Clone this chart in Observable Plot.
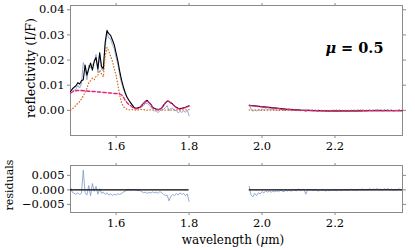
<!DOCTYPE html>
<html><head><meta charset="utf-8">
<script src="https://cdn.jsdelivr.net/npm/d3@7"></script>
<script src="https://cdn.jsdelivr.net/npm/@observablehq/plot@0.6"></script>
<style>
body{margin:0;background:#fff;}
#chart{position:relative;width:415px;height:250px;font-family:"DejaVu Serif",serif;}
#chart svg{position:absolute;left:0;}
</style></head><body><div id="chart"></div>
<script>
// ---- data: first wavelength chunk (µm) ----
const wave1 = [
1.475,1.480,1.485,1.490,1.495,1.500,1.505,1.510,1.515,1.520,
1.525,1.530,1.535,1.540,1.545,1.550,1.555,1.560,1.565,1.570,
1.575,1.580,1.585,1.590,1.595,1.600,1.605,1.610,1.615,1.620,
1.625,1.630,1.635,1.640,1.645,1.650,1.655,1.660,1.665,1.670,
1.675,1.680,1.685,1.690,1.695,1.700,1.705,1.710,1.715,1.720,
1.725,1.730,1.735,1.740,1.745,1.750,1.755,1.760,1.765,1.770,
1.775,1.780,1.785,1.790,1.795,1.800];
const obs1 = [
0.0085,0.0077,0.0080,0.0083,0.0100,0.0089,0.0106,0.0190,0.0170,0.0122,
0.0180,0.0168,0.0182,0.0190,0.0222,0.0150,0.0232,0.0163,0.0157,0.0254,
0.0308,0.0287,0.0284,0.0261,0.0245,0.0210,0.0182,0.0139,0.0108,0.0085,
0.0066,0.0051,0.0042,0.0028,0.0021,0.0009,0.0008,0.0007,0.0010,0.0014,
0.0018,0.0027,0.0028,0.0023,0.0014,0.0005,-0.0002,-0.0003,-0.0009,-0.0001,
0.0000,0.0005,0.0010,0.0019,-0.0002,0.0008,0.0009,-0.0002,0.0000,-0.0010,
-0.0004,-0.0008,-0.0002,-0.0008,0.0001,-0.0022];
const model1 = [
0.0075,0.0085,0.0092,0.0098,0.0110,0.0105,0.0118,0.0122,0.0180,0.0140,
0.0165,0.0188,0.0160,0.0195,0.0210,0.0165,0.0228,0.0175,0.0165,0.0270,
0.0318,0.0305,0.0298,0.0280,0.0260,0.0228,0.0195,0.0155,0.0120,0.0093,
0.0070,0.0052,0.0040,0.0030,0.0020,0.0010,0.0008,0.0010,0.0012,0.0020,
0.0028,0.0035,0.0040,0.0032,0.0025,0.0012,0.0008,0.0005,0.0003,0.0005,
0.0010,0.0020,0.0030,0.0037,0.0036,0.0030,0.0025,0.0018,0.0012,0.0008,
0.0006,0.0008,0.0010,0.0012,0.0015,0.0018];
const haze1 = [
0.0068,0.0073,0.0076,0.0078,0.0079,0.0079,0.0079,0.0078,0.0078,0.0077,
0.0076,0.0076,0.0075,0.0075,0.0074,0.0073,0.0073,0.0072,0.0071,0.0071,
0.0070,0.0069,0.0069,0.0068,0.0067,0.0067,0.0066,0.0065,0.0062,0.0052,
0.0040,0.0030,0.0023,0.0018,0.0012,0.0008,0.0006,0.0008,0.0010,0.0018,
0.0026,0.0033,0.0038,0.0031,0.0024,0.0011,0.0007,0.0004,0.0002,0.0004,
0.0009,0.0019,0.0029,0.0036,0.0035,0.0029,0.0024,0.0017,0.0011,0.0007,
0.0005,0.0007,0.0009,0.0011,0.0014,0.0017];
const gas1 = [
0.0000,0.0006,0.0012,0.0020,0.0028,0.0035,0.0045,0.0058,0.0070,0.0088,
0.0110,0.0118,0.0128,0.0122,0.0135,0.0140,0.0160,0.0145,0.0133,0.0215,
0.0250,0.0235,0.0215,0.0195,0.0165,0.0140,0.0100,0.0060,0.0030,0.0015,
0.0008,0.0004,0.0002,0.0002,0.0003,0.0002,0.0001,0.0002,0.0003,0.0004,
0.0003,0.0002,0.0001,0.0001,0.0002,0.0001,0.0001,0.0002,0.0003,0.0003,
0.0002,0.0001,0.0001,0.0002,0.0002,0.0001,0.0001,0.0002,0.0002,0.0001,
0.0001,0.0002,0.0002,0.0002,0.0002,0.0003];
const resid1 = [
0.0010,-0.0008,-0.0012,-0.0015,-0.0010,-0.0016,-0.0012,0.0068,-0.0010,-0.0018,
0.0015,-0.0020,0.0022,-0.0005,0.0012,-0.0015,0.0004,-0.0012,-0.0008,-0.0016,
-0.0010,-0.0018,-0.0014,-0.0019,-0.0015,-0.0018,-0.0013,-0.0016,-0.0012,-0.0008,
-0.0004,-0.0001,0.0002,-0.0002,0.0001,-0.0001,0.0000,-0.0003,-0.0002,-0.0006,
-0.0010,-0.0008,-0.0012,-0.0009,-0.0011,-0.0007,-0.0010,-0.0008,-0.0012,-0.0006,
-0.0010,-0.0015,-0.0020,-0.0018,-0.0038,-0.0022,-0.0016,-0.0020,-0.0012,-0.0018,
-0.0010,-0.0016,-0.0012,-0.0020,-0.0014,-0.0040];

// ---- data: second wavelength chunk (µm) ----
const wave2 = [
1.965,1.970,1.975,1.980,1.985,1.990,1.995,2.000,2.005,2.010,
2.015,2.020,2.025,2.030,2.035,2.040,2.045,2.050,2.055,2.060,
2.065,2.070,2.075,2.080,2.085,2.090,2.095,2.100,2.105,2.110,
2.115,2.120,2.125,2.130,2.135,2.140,2.145,2.150,2.155,2.160,
2.165,2.170,2.175,2.180,2.185,2.190,2.195,2.200,2.205,2.210,
2.215,2.220,2.225,2.230,2.235,2.240,2.245,2.250,2.255,2.260,
2.265,2.270,2.275,2.280,2.285,2.290,2.295,2.300,2.305,2.310,
2.315,2.320,2.325,2.330,2.335,2.340,2.345,2.350,2.355,2.360,
2.365,2.370,2.375,2.380,2.385];
const obs2 = [
0.0022,0.0005,-0.0004,0.0002,-0.0003,0.0004,0.0000,0.0006,0.0002,0.0007,
0.0003,0.0006,0.0002,0.0005,0.0001,0.0004,0.0000,0.0004,0.0002,-0.0001,
0.0003,0.0000,0.0002,-0.0002,0.0003,0.0001,-0.0001,0.0004,-0.0002,0.0000,
0.0001,-0.0006,0.0002,-0.0001,0.0001,-0.0003,0.0000,-0.0002,-0.0004,-0.0001,
-0.0003,-0.0002,-0.0005,-0.0002,-0.0004,-0.0001,-0.0003,-0.0002,-0.0004,-0.0001,
-0.0003,-0.0002,0.0000,-0.0003,-0.0001,-0.0002,0.0001,-0.0002,0.0000,-0.0003,
0.0001,-0.0001,0.0002,-0.0002,0.0001,-0.0001,0.0003,-0.0001,0.0002,0.0000,
0.0004,-0.0001,0.0002,-0.0002,0.0003,0.0000,0.0004,-0.0001,0.0002,-0.0003,
0.0001,-0.0002,0.0003,-0.0001,0.0002];
const resid2 = [
0.0012,-0.0018,-0.0024,-0.0012,-0.0020,-0.0010,-0.0014,-0.0006,-0.0010,-0.0004,
-0.0008,-0.0004,-0.0008,-0.0004,-0.0007,-0.0003,-0.0006,-0.0002,-0.0004,-0.0006,
-0.0002,-0.0004,-0.0001,-0.0005,0.0001,-0.0002,-0.0003,0.0003,-0.0002,0.0001,
0.0002,-0.0015,0.0002,-0.0001,0.0001,-0.0003,0.0001,-0.0002,-0.0004,0.0000,
-0.0002,-0.0001,-0.0004,-0.0001,-0.0003,0.0000,-0.0002,-0.0001,-0.0003,0.0000,
-0.0002,-0.0001,0.0001,-0.0002,0.0000,-0.0001,0.0002,-0.0001,0.0001,-0.0002,
0.0002,0.0000,0.0003,-0.0001,0.0002,0.0000,0.0004,0.0000,0.0003,0.0001,
0.0005,0.0000,0.0003,-0.0001,0.0004,0.0001,0.0005,0.0000,0.0003,-0.0002,
0.0002,-0.0001,0.0004,0.0000,0.0003];
const wave2m = [1.965,1.985,2.005,2.025,2.045,2.065,2.085,2.105,2.125,2.145,2.165,
2.185,2.205,2.225,2.245,2.265,2.285,2.305,2.325,2.345,2.365,2.385];
const model2 = [0.0020,0.0017,0.0014,0.0011,0.0008,0.0005,0.0003,0.0001,0.0000,-0.0001,-0.0001,
-0.0002,-0.0002,-0.0002,-0.0002,-0.0002,-0.0001,-0.0001,-0.0001,-0.0001,-0.0001,-0.0001];
const haze2 = [0.0019,0.0016,0.0013,0.0010,0.0007,0.0004,0.0002,0.0000,-0.0001,-0.0001,-0.0002,
-0.0002,-0.0002,-0.0002,-0.0002,-0.0002,-0.0002,-0.0001,-0.0001,-0.0001,-0.0001,-0.0001];
const gas2 = [0.0001,0.0001,0.0000,0.0001,0.0000,0.0000,0.0001,0.0000,0.0000,0.0001,0.0000,
0.0000,0.0001,0.0000,0.0000,0.0001,0.0000,0.0000,0.0001,0.0000,0.0000,0.0001];

// ---- ticks & labels ----
const xTicks = [1.6, 1.8, 2.0, 2.2];
const yTicksTop = [0, 0.01, 0.02, 0.03, 0.04];
const yTicksRes = [-0.005, 0, 0.005];
const yLabelTop = "reflectivity (I/F)";
const yLabelRes = "residuals";
const xLabelPre = "wavelength (", xLabelMu = "μ", xLabelPost = "m)";
const muSym = "μ", muText = " = 0.5";

const cBlue = "#7e95cc", cMag = "#e61f7e", cOrange = "#d4701f", cFrame = "#8a8a8a";

const common = {
  width: 415, marginLeft: 70, marginRight: 13,
  x: {domain: [1.475, 2.385]},
  style: {fontFamily: "DejaVu Serif", fontSize: "11.5px", background: "transparent", color: "black", overflow: "visible"}
};
function axes(yTicks, yFmt) {
  return [
    Plot.frame({stroke: cFrame, strokeWidth: 1}),
    Plot.axisX({anchor: "bottom", ticks: xTicks, tickSize: 3, tickPadding: 3, tickFormat: d3.format(".1f"), stroke: cFrame, fill: "black", label: null}),
    Plot.axisX({anchor: "top", ticks: xTicks, tickSize: 3, tickFormat: () => "", stroke: cFrame, label: null}),
    Plot.axisY({anchor: "left", ticks: yTicks, tickSize: 3, tickPadding: 3, tickFormat: yFmt, stroke: cFrame, fill: "black", label: null}),
    Plot.axisY({anchor: "right", ticks: yTicks, tickSize: 3, tickFormat: () => "", stroke: cFrame, label: null})
  ];
}

const topPlot = Plot.plot({
  ...common, height: 150, marginTop: 5, marginBottom: 15,
  y: {domain: [-0.01, 0.0417]},
  marks: [
    ...axes(yTicksTop, d3.format(".2f")),
    Plot.line(wave1, {x: wave1, y: obs1, stroke: cBlue, strokeWidth: 0.8}),
    Plot.line(wave2, {x: wave2, y: obs2, stroke: cBlue, strokeWidth: 0.8}),
    Plot.line(wave1, {x: wave1, y: model1, stroke: "black", strokeWidth: 1.1}),
    Plot.line(wave2m, {x: wave2m, y: model2, stroke: "black", strokeWidth: 1.1}),
    Plot.line(wave1, {x: wave1, y: gas1, stroke: cOrange, strokeWidth: 1.3, strokeDasharray: "0.5,2.5", strokeLinecap: "round"}),
    Plot.line(wave2m, {x: wave2m, y: gas2, stroke: cOrange, strokeWidth: 1.3, strokeDasharray: "0.5,2.5", strokeLinecap: "round"}),
    Plot.line(wave1, {x: wave1, y: haze1, stroke: cMag, strokeWidth: 1.3, strokeDasharray: "3.5,2"}),
    Plot.line(wave2m, {x: wave2m, y: haze2, stroke: cMag, strokeWidth: 1.3, strokeDasharray: "3.5,2"}),
    Plot.text([muSym + muText], {frameAnchor: "top-right", textAnchor: "end", lineAnchor: "middle", dx: -19, dy: 43, fontSize: 14.5, fontWeight: "bold"})
  ]
});
topPlot.style.top = "0px";

const resPlot = Plot.plot({
  ...common, height: 100, marginTop: 15, marginBottom: 38,
  y: {domain: [-0.0078, 0.0084]},
  marks: [
    ...axes(yTicksRes, d3.format(".3f")),
    Plot.line(wave1, {x: wave1, y: resid1, stroke: cBlue, strokeWidth: 0.8}),
    Plot.line(wave2, {x: wave2, y: resid2, stroke: cBlue, strokeWidth: 0.8}),
    Plot.ruleY([0], {x1: wave1[0], x2: wave1[wave1.length - 1], stroke: "black", strokeWidth: 1.1}),
    Plot.ruleY([0], {x1: wave2[0], x2: wave2[wave2.length - 1], stroke: "black", strokeWidth: 1.1})
  ]
});
resPlot.style.top = "150px";

const chart = document.getElementById("chart");
chart.appendChild(topPlot);
chart.appendChild(resPlot);

// italic mu in the annotation
d3.select(topPlot).selectAll("text").filter(function() { return this.textContent === muSym + muText; })
  .each(function() {
    const t = d3.select(this);
    t.text(null);
    t.append("tspan").attr("font-style", "italic").text(muSym);
    t.append("tspan").text(muText);
  });

// axis titles
d3.select(topPlot).append("text")
  .attr("transform", "translate(30,68) rotate(-90)")
  .attr("text-anchor", "middle").attr("dominant-baseline", "central")
  .attr("font-size", 12.5).attr("fill", "black").text(yLabelTop);
d3.select(resPlot).append("text")
  .attr("transform", "translate(9,35) rotate(-90)")
  .attr("text-anchor", "middle").attr("dominant-baseline", "central")
  .attr("font-size", 11).attr("fill", "black").text(yLabelRes);
const xl = d3.select(resPlot).append("text")
  .attr("x", 233).attr("y", 90)
  .attr("text-anchor", "middle").attr("dominant-baseline", "central")
  .attr("font-size", 12).attr("fill", "black");
xl.append("tspan").text(xLabelPre);
xl.append("tspan").attr("font-style", "italic").text(xLabelMu);
xl.append("tspan").text(xLabelPost);
</script></body></html>
